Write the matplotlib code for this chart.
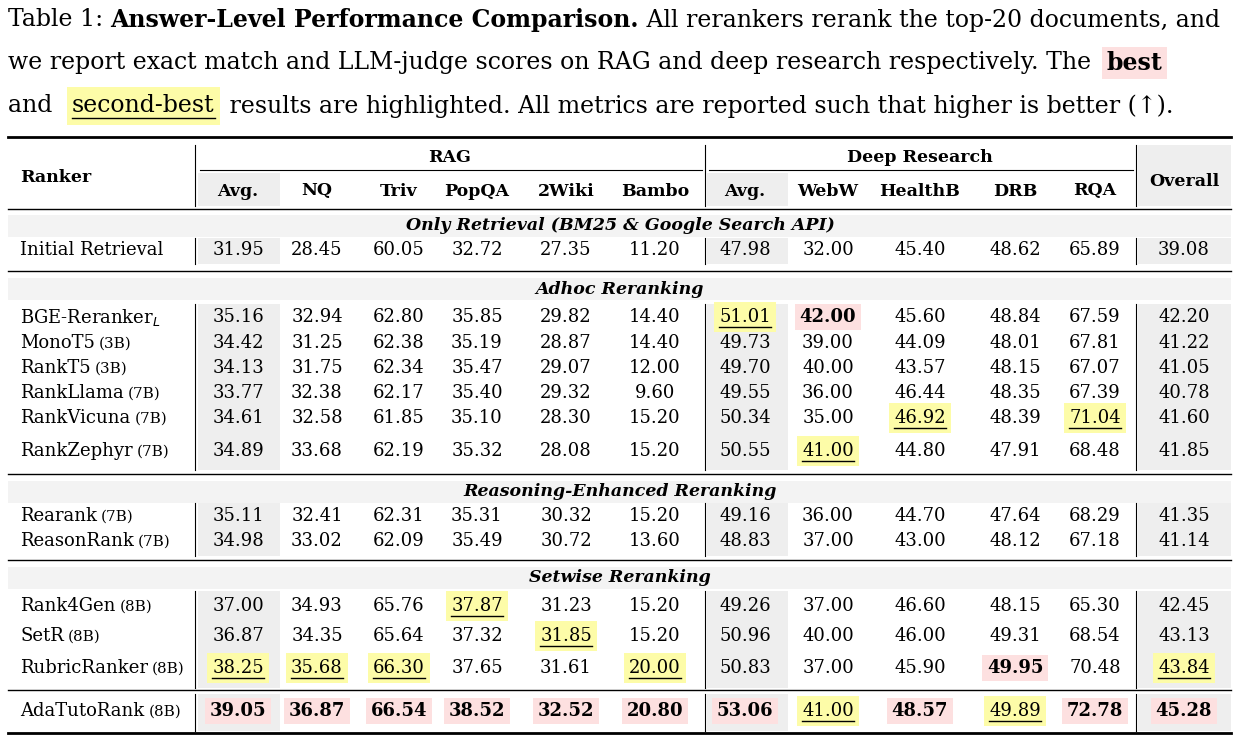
import matplotlib.pyplot as plt
from matplotlib.patches import Rectangle

# ---- data ----
columns = ["Avg.", "NQ", "Triv", "PopQA", "2Wiki", "Bambo",
           "Avg.", "WebW", "HealthB", "DRB", "RQA", "Overall"]
groups = ["Only Retrieval (BM25 & Google Search API)", "Adhoc Reranking",
          "Reasoning-Enhanced Reranking", "Setwise Reranking", None]
group_rows = [
    [("Initial Retrieval", "", ["31.95", "28.45", "60.05", "32.72", "27.35", "11.20", "47.98", "32.00", "45.40", "48.62", "65.89", "39.08"])],
    [("BGE-Reranker$_L$", "", ["35.16", "32.94", "62.80", "35.85", "29.82", "14.40", "51.01", "42.00", "45.60", "48.84", "67.59", "42.20"]),
     ("MonoT5", "(3B)", ["34.42", "31.25", "62.38", "35.19", "28.87", "14.40", "49.73", "39.00", "44.09", "48.01", "67.81", "41.22"]),
     ("RankT5", "(3B)", ["34.13", "31.75", "62.34", "35.47", "29.07", "12.00", "49.70", "40.00", "43.57", "48.15", "67.07", "41.05"]),
     ("RankLlama", "(7B)", ["33.77", "32.38", "62.17", "35.40", "29.32", "9.60", "49.55", "36.00", "46.44", "48.35", "67.39", "40.78"]),
     ("RankVicuna", "(7B)", ["34.61", "32.58", "61.85", "35.10", "28.30", "15.20", "50.34", "35.00", "46.92", "48.39", "71.04", "41.60"]),
     ("RankZephyr", "(7B)", ["34.89", "33.68", "62.19", "35.32", "28.08", "15.20", "50.55", "41.00", "44.80", "47.91", "68.48", "41.85"])],
    [("Rearank", "(7B)", ["35.11", "32.41", "62.31", "35.31", "30.32", "15.20", "49.16", "36.00", "44.70", "47.64", "68.29", "41.35"]),
     ("ReasonRank", "(7B)", ["34.98", "33.02", "62.09", "35.49", "30.72", "13.60", "48.83", "37.00", "43.00", "48.12", "67.18", "41.14"])],
    [("Rank4Gen", "(8B)", ["37.00", "34.93", "65.76", "37.87", "31.23", "15.20", "49.26", "37.00", "46.60", "48.15", "65.30", "42.45"]),
     ("SetR", "(8B)", ["36.87", "34.35", "65.64", "37.32", "31.85", "15.20", "50.96", "40.00", "46.00", "49.31", "68.54", "43.13"]),
     ("RubricRanker", "(8B)", ["38.25", "35.68", "66.30", "37.65", "31.61", "20.00", "50.83", "37.00", "45.90", "49.95", "70.48", "43.84"])],
    [("AdaTutoRank", "(8B)", ["39.05", "36.87", "66.54", "38.52", "32.52", "20.80", "53.06", "41.00", "48.57", "49.89", "72.78", "45.28"])],
]
# (group, row, col) -> "best" / "second"
marks = {(1, 0, 6): "second", (1, 0, 7): "best", (1, 4, 8): "second", (1, 4, 10): "second",
         (1, 5, 7): "second", (3, 0, 3): "second", (3, 1, 4): "second",
         (3, 2, 0): "second", (3, 2, 1): "second", (3, 2, 2): "second", (3, 2, 5): "second",
         (3, 2, 9): "best", (3, 2, 11): "second"}
for c in range(12):
    marks[(4, 0, c)] = "second" if c in (7, 9) else "best"

# ---- layout ----
W, H = 1245, 746
FONT = "DejaVu Serif"
PINK, YELLOW, GREY, LGREY = "#fde0e0", "#fdfca8", "#eeeeee", "#f3f3f3"
col_x = [238, 317, 399, 477, 566, 655, 745, 828, 920, 1015, 1095, 1184]
avg_spans = [(198, 280), (707, 788), (1138, 1231)]
vlines = [195, 705, 1136]
heading_y = [226, 289, 492, 578, None]
row_y = [[250], [317, 343, 368, 393, 418, 451], [516, 541], [606, 636, 668], [711]]
block_spans = [(238, 264), (304, 470), (503, 556), (591, 688), (694, 731)]
rules = [(137, 2.0), (209, 1.0), (271, 1.0), (474, 1.0), (560, 1.0), (690, 1.0), (733, 2.0)]

fig = plt.figure(figsize=(W / 100, H / 100), dpi=100)
ax = fig.add_axes([0, 0, 1, 1])
ax.set_xlim(0, W)
ax.set_ylim(H, 0)
ax.axis("off")
rend = fig.canvas.get_renderer()


def put(x, y, s, size=13, weight="normal", style="normal", ha="left"):
    t = ax.text(x, y, s, fontsize=size, fontweight=weight, fontstyle=style,
                ha=ha, va="center", family=FONT, zorder=3)
    bb = t.get_window_extent(rend)
    return bb.x0, bb.x1


def box(x0, x1, y, color, h=26):
    ax.add_patch(Rectangle((x0 - 5, y - h / 2), x1 - x0 + 10, h, color=color, lw=0, zorder=1))


def underline(x0, x1, y):
    ax.plot([x0, x1], [y, y], color="black", lw=1, zorder=3)


# caption
cs = 17
x0, x1 = put(8, 20, "Table 1: ", cs)
x0, x1 = put(x1, 20, "Answer-Level Performance Comparison.", cs, weight="bold")
put(x1, 20, " All rerankers rerank the top-20 documents, and", cs)
x0, x1 = put(8, 63, "we report exact match and LLM-judge scores on RAG and deep research respectively. The ", cs)
b0, b1 = put(x1 + 8, 63, "best", cs, weight="bold")
box(b0, b1, 63, PINK, 32)
x0, x1 = put(8, 106, "and ", cs)
b0, b1 = put(x1 + 12, 106, "second-best", cs)
box(b0, b1, 106, YELLOW, 38)
underline(b0, b1, 118)
put(b1 + 8, 106, " results are highlighted. All metrics are reported such that higher is better (↑).", cs)

# header
ax.add_patch(Rectangle((1138, 145), 93, 61, color=GREY, lw=0, zorder=0))
for a, b in avg_spans[:2]:
    ax.add_patch(Rectangle((a, 173), b - a, 33, color=GREY, lw=0, zorder=0))
put(20, 177, "Ranker", 12.5, weight="bold")
put(450, 158, "RAG", 12.5, weight="bold", ha="center")
put(920, 158, "Deep Research", 12.5, weight="bold", ha="center")
ax.plot([200, 702], [170, 170], color="black", lw=0.8)
ax.plot([709, 1133], [170, 170], color="black", lw=0.8)
for x, c in zip(col_x, columns):
    put(x, 182 if c == "Overall" else 191, c, 12.5, weight="bold", ha="center")
for v in vlines:
    ax.plot([v, v], [145, 206], color="black", lw=0.8)

for y, lw in rules:
    ax.plot([8, 1231], [y, y], color="black", lw=lw, zorder=2)

for g, (title, rows) in enumerate(zip(groups, group_rows)):
    if title:
        hy = heading_y[g]
        ax.add_patch(Rectangle((8, hy - 11), 1223, 22, color=LGREY, lw=0, zorder=0))
        put(620, hy, title, 12.5, weight="bold", style="italic", ha="center")
    top, bot = block_spans[g]
    for a, b in avg_spans:
        ax.add_patch(Rectangle((a, top), b - a, bot - top, color=GREY, lw=0, zorder=0))
    for v in vlines:
        ax.plot([v, v], [top, bot], color="black", lw=0.8)
    for r, (name, size, vals) in enumerate(rows):
        y = row_y[g][r]
        _, nx1 = put(20, y, name, 13)
        if size:
            put(nx1 + 4, y + 1, size, 11)
        for c, (x, v) in enumerate(zip(col_x, vals)):
            m = marks.get((g, r, c))
            v0, v1 = put(x, y, v, 13, weight="bold" if m == "best" else "normal", ha="center")
            if m == "best":
                box(v0, v1, y, PINK)
            elif m == "second":
                box(v0, v1, y, YELLOW, 30)
                underline(v0, v1, y + 10)

fig.savefig("out.png", dpi=100)
